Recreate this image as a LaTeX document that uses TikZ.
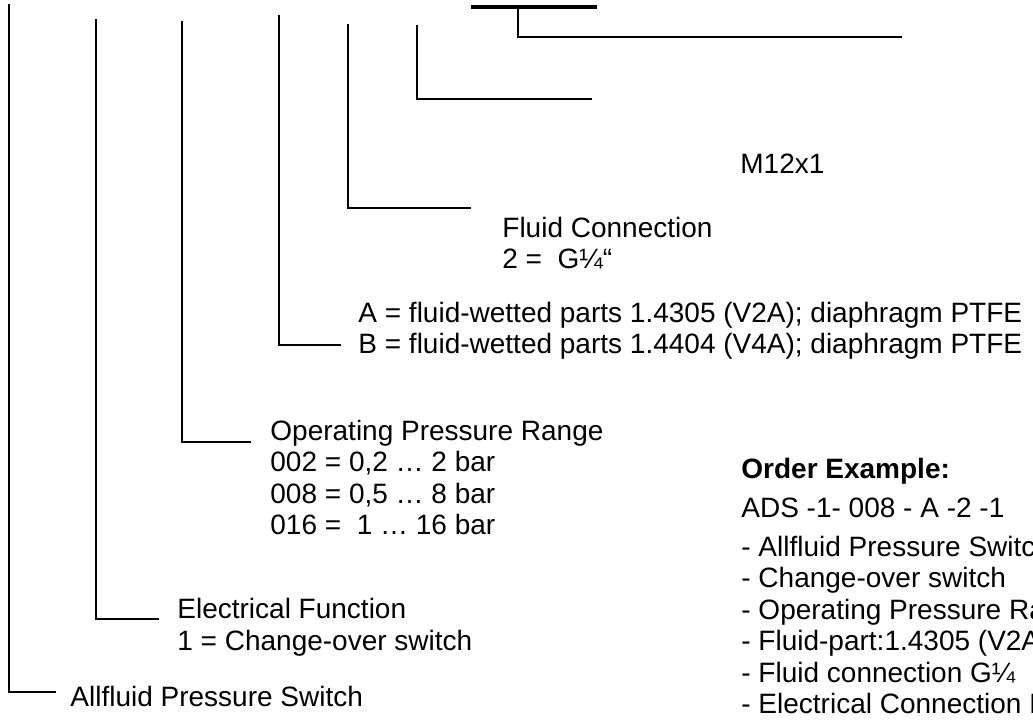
\documentclass[tikz,border=0pt]{standalone}
\usepackage{fontspec}
\setmainfont{Liberation Sans}
\begin{document}
\begin{tikzpicture}[x=0.5pt,y=-0.5pt,
  lbl/.style={anchor=base west,inner sep=0pt,font=\fontsize{14}{15.7}\selectfont},
  conn/.style={line width=1pt,line cap=rect},
  uline/.style={line width=2pt}]
\useasboundingbox (0,0) rectangle (1033,720);
% top ends of the leader lines
\coordinate (t1) at (9,5);
\coordinate (t2) at (96,20);
\coordinate (t3) at (182,22);
\coordinate (t4) at (279,16);
\coordinate (t5) at (348,25);
\coordinate (t6) at (417,26);
\coordinate (t7) at (518,8);
% free ends of the leader lines
\coordinate (e1) at (55,692);
\coordinate (e2) at (158,619);
\coordinate (e3) at (250,442);
\coordinate (e4) at (340,345);
\coordinate (e5) at (470,208);
\coordinate (e6) at (591,99);
\coordinate (e7) at (901,37);
% underline of the last code group
\coordinate (u1) at (471,7);
\coordinate (u2) at (597,7);
\draw[uline] (u1) -- (u2);
\foreach \i in {1,...,7} {\draw[conn] (t\i) |- (e\i);}
% labels
\node[lbl] (allf) at (70,706) {Allfluid Pressure Switch};
\node[lbl] (elf) at (177,618) {Electrical Function};
\node[lbl] (elf1) at (177,650) {1 = Change-over switch};
\node[lbl] (opr) at (270,440) {Operating Pressure Range};
\node[lbl] (opr1) at (270,471) {002 = 0,2 … 2 bar};
\node[lbl] (opr2) at (270,503) {008 = 0,5 … 8 bar};
\node[lbl] (opr3) at (270,534) {016 = \ 1 … 16 bar};
\node[lbl] (matA) at (358,322) {A = fluid-wetted parts 1.4305 (V2A); diaphragm PTFE};
\node[lbl] (matB) at (358,353) {B = fluid-wetted parts 1.4404 (V4A); diaphragm PTFE};
\node[lbl] (fc) at (502,237) {Fluid Connection};
\node[lbl] (fc1) at (502,268) {2 = \ G¼“};
\node[lbl] (m12) at (740,173) {M12x1};
% order example
\node[lbl,font=\fontsize{14}{15.7}\selectfont\bfseries] (oex) at (741,478) {Order Example:};
\node[lbl] (oex0) at (741,517) {ADS -1- 008 - A -2 -1};
\node[lbl] (oex1) at (741,556) {- Allfluid Pressure Switch};
\node[lbl] (oex2) at (741,587) {- Change-over switch};
\node[lbl] (oex3) at (741,619) {- Operating Pressure Range};
\node[lbl] (oex4) at (741,650) {- Fluid-part:1.4305 (V2A)};
\node[lbl] (oex5) at (741,682) {- Fluid connection G¼};
\node[lbl] (oex6) at (741,713) {- Electrical Connection M12x1};
\end{tikzpicture}
\end{document}
